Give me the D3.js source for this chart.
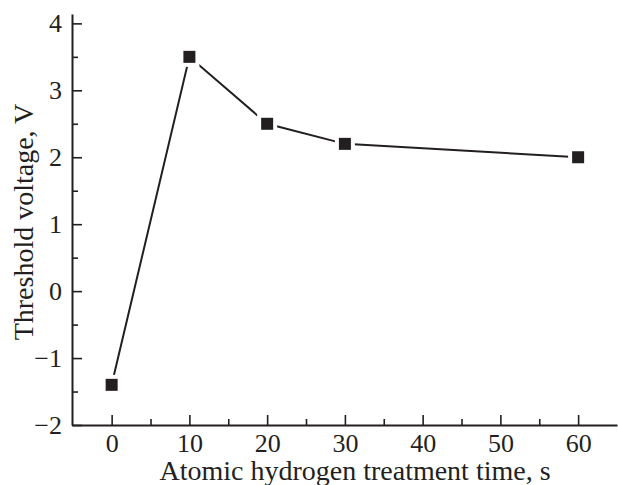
<!DOCTYPE html>
<html><head><meta charset="utf-8">
<script src="https://cdn.jsdelivr.net/npm/d3@7"></script>
<style>body{margin:0;background:#fff}svg{display:block} text{font-family:"Liberation Serif","DejaVu Serif",serif !important;}</style>
</head><body>
<svg id="c" width="618" height="485"></svg>
<script>
const times = [0, 10, 20, 30, 60];
const voltages = [-1.4, 3.5, 2.5, 2.2, 2.0];
const xTicks = [0, 10, 20, 30, 40, 50, 60];
const yTicks = [-2, -1, 0, 1, 2, 3, 4];
const xLabel = "Atomic hydrogen treatment time, s";
const yLabel = "Threshold voltage, V";

const svg = d3.select("#c");
const x0 = 72, x1 = 617, yTop = 14, yBot = 425;
const x = d3.scaleLinear().domain([-5.1, 65]).range([x0, x1]);
const y = d3.scaleLinear().domain([-2, 4.14]).range([yBot, yTop]);
const col = "#231f20";

// x axis
const gx = svg.append("g").attr("transform", `translate(0,${yBot})`);
gx.call(d3.axisBottom(x).tickValues(xTicks).tickSize(-10).tickPadding(9).tickSizeOuter(0));
gx.append("g").attr("class", "minor").call(d3.axisBottom(x).tickValues(d3.range(5, 60, 10)).tickSize(-6).tickFormat("").tickSizeOuter(0));
// y axis
const gy = svg.append("g").attr("transform", `translate(${x0},0)`);
gy.call(d3.axisLeft(y).tickValues(yTicks).tickSize(-10).tickPadding(10).tickSizeOuter(0).tickFormat(d => d < 0 ? "\u2212" + Math.abs(d) : d));
gy.append("g").attr("class", "minor").call(d3.axisLeft(y).tickValues(d3.range(-1.5, 4, 1)).tickSize(-6).tickFormat("").tickSizeOuter(0));

svg.selectAll(".minor .domain").remove();
svg.selectAll(".domain").attr("stroke", col).attr("stroke-width", 2);
svg.selectAll(".tick line").attr("stroke", col).attr("stroke-width", 1.6);
svg.selectAll(".tick text").attr("font-size", 26).attr("fill", col);
gx.selectAll(".tick text").attr("dy", "0.68em");

// labels
svg.append("text").attr("x", 355).attr("y", 480).attr("text-anchor", "middle")
  .attr("font-size", 28).attr("fill", col).text(xLabel);
svg.append("text").attr("transform", `translate(33,222) rotate(-90)`).attr("text-anchor", "middle")
  .attr("font-size", 28).attr("fill", col).text(yLabel);

const data = times.map((t, i) => ({t, v: voltages[i]}));
svg.append("path").datum(data)
  .attr("d", d3.line().x(d => x(d.t)).y(d => y(d.v)))
  .attr("fill", "none").attr("stroke", col).attr("stroke-width", 2);
svg.selectAll(".halo").data(data).enter().append("rect")
  .attr("x", d => x(d.t) - 10).attr("y", d => y(d.v) - 10).attr("width", 20).attr("height", 20).attr("fill", "#fff");
svg.selectAll(".pt").data(data).enter().append("rect")
  .attr("x", d => x(d.t) - 6).attr("y", d => y(d.v) - 6).attr("width", 12).attr("height", 12).attr("fill", col);
</script>
</body></html>
